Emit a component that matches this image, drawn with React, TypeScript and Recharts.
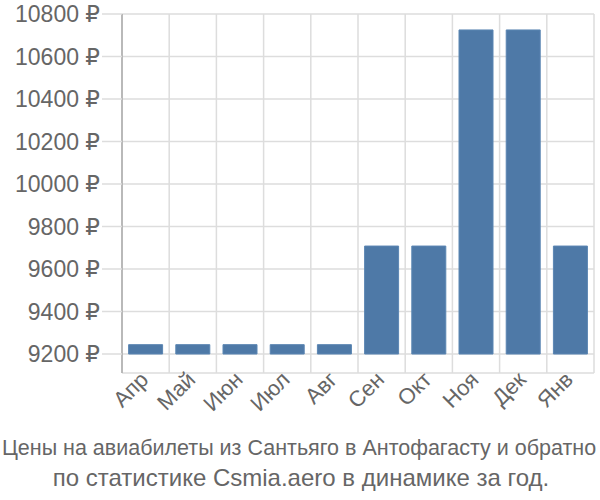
import React from 'react';
import { BarChart, Bar, XAxis, YAxis, CartesianGrid } from 'recharts';

const months = ['Апр', 'Май', 'Июн', 'Июл', 'Авг', 'Сен', 'Окт', 'Ноя', 'Дек', 'Янв'];
const prices = [9244, 9244, 9244, 9244, 9244, 9708, 9708, 10725, 10725, 9708];
const yTicks = [9200, 9400, 9600, 9800, 10000, 10200, 10400, 10600, 10800];
const baseValue = 9200;
const title = ['Цены на авиабилеты из Сантьяго в Антофагасту и обратно', 'по статистике Csmia.aero в динамике за год.'];

const data = months.map((month, i) => ({ month, price: prices[i] }));

const font = '"Liberation Sans", Arial, "DejaVu Sans", sans-serif';

const MonthTick = (props: any) => {
  const { x, y, payload } = props;
  const ax = x + 4;
  const ay = y;
  return (
    <text
      x={ax}
      y={ay}
      transform={`rotate(-45, ${ax}, ${ay})`}
      textAnchor="end"
      fill="#666"
      fontSize={22}
      fontFamily={font}
    >
      {payload.value}
    </text>
  );
};

const App: React.FC = () => {
  return (
    <div style={{ position: 'absolute', left: 0, top: 0, width: 600, height: 500, background: '#fff' }}>
      <BarChart
        width={600}
        height={500}
        data={data}
        margin={{ top: 14, right: 6, bottom: 67, left: 0 }}
        barCategoryGap="14%"
      >
        <CartesianGrid
          stroke="#ddd"
          strokeWidth={1.5}
          verticalCoordinatesGenerator={({ offset }: any) =>
            months.map((_, i) => offset.left + (i * offset.width) / months.length).concat(offset.left + offset.width)
          }
        />
        <XAxis
          dataKey="month"
          height={60}
          axisLine={false}
          tickLine={false}
          interval={0}
          tick={<MonthTick />}
        />
        <YAxis
          width={122}
          domain={[9110.6, 10800]}
          ticks={yTicks}
          interval={0}
          allowDataOverflow
          axisLine={{ stroke: '#aaa', strokeWidth: 1.5 }}
          tickLine={{ stroke: '#ddd', strokeWidth: 1.5 }}
          tickSize={20}
          tickMargin={2}
          tick={{ fill: '#666', fontSize: 23, fontFamily: font }}
          tickFormatter={(v) => `${v} ₽`}
        />
        <Bar
          dataKey={(d: any) => [baseValue, d.price]}
          fill="#4e79a7"
          stroke="#5b86b3"
          strokeWidth={1}
          isAnimationActive={false}
        />
      </BarChart>
      <svg width={600} height={70} style={{ position: 'absolute', left: 0, top: 430 }}>
        <text x={299} y={25} textAnchor="middle" fill="#666" fontSize={21.5} fontFamily={font}>
          {title[0]}
        </text>
        <text x={301} y={56} textAnchor="middle" fill="#666" fontSize={24} fontFamily={font}>
          {title[1]}
        </text>
      </svg>
    </div>
  );
};

export default App;
